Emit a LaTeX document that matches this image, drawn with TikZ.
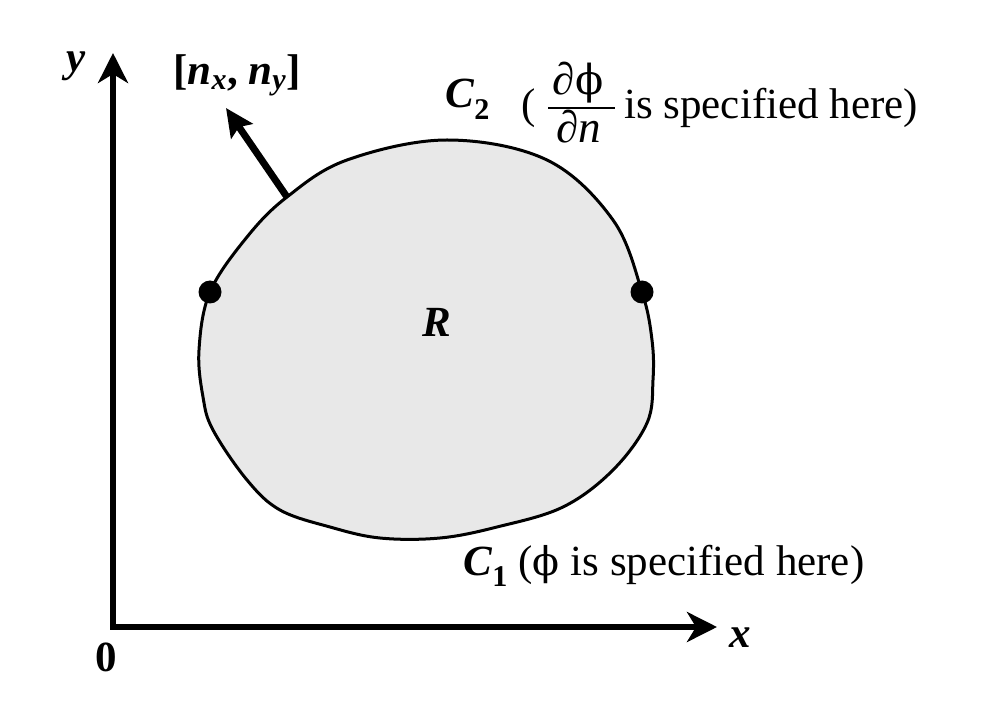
\documentclass[tikz,border=0pt]{standalone}
\usepackage{fontspec}
\setmainfont{Liberation Serif}
\newfontfamily\phifont{DejaVu Serif}[Scale=0.92]
\newcommand{\vphi}{{\phifont ϕ}}
\usetikzlibrary{arrows.meta}
\begin{document}
\begin{tikzpicture}[x=1pt,y=-1pt,
  lbl/.style={inner sep=0pt, font=\fontsize{43}{50}\selectfont},
  fracpart/.style={inner sep=0pt, anchor=base, font=\fontsize{45}{52}\selectfont},
  axisline/.style={line width=6pt, {Stealth[length=30pt,width=30pt,inset=9pt]}-{Stealth[length=30pt,width=30pt,inset=9pt]}},
  normalarrow/.style={line width=7pt, -{Stealth[length=28pt,width=26pt,inset=5pt]}},
  regionfill/.style={fill=black!9, draw=black, line width=3pt},
  fracbar/.style={line width=2.5pt},
  dotmark/.style={circle, fill=black, inner sep=0pt, minimum size=23pt}]
\useasboundingbox (0,0) rectangle (982,708);
% region
\draw[regionfill] plot[smooth cycle, tension=0.6] coordinates {
 (210,292) (247,237) (287,197) (347,160) (447,140) (547,160) (613,220)
 (642,292) (652,340) (653,380) (647,423) (613,470) (563,507) (497,527)
 (440,538) (380,538) (330,527) (280,510) (247,480) (213,430) (203,397) (199,350)};
\node[dotmark] (d1) at (210,292) {};
\node[dotmark] (d2) at (642,292) {};
% axes
\coordinate (O) at (113,627);
\coordinate (ytip) at (113,53);
\coordinate (xtip) at (717,627);
\draw[axisline] (ytip) -- (O) -- (xtip);
% normal
\coordinate (nb) at (287,197);
\coordinate (nt) at (226,108);
\draw[normalarrow] (nb) -- (nt);
% labels
\node[lbl] (ylab) at (76,66) {\textbf{\textit{y}}};
\node[lbl] (xlab) at (740,638) {\textbf{\textit{x}}};
\node[lbl] (olab) at (106,657) {\textbf{0}};
\node[lbl] (rlab) at (437,322) {\textbf{\textit{R}}};
\node[lbl] (nlab) at (237,75) {\textbf{[\textit{n}\textsubscript{\textit{x}}, \textit{n}\textsubscript{\textit{y}}]}};
\node[lbl, anchor=base west] (c2lab) at (445,108) {\textbf{\textit{C}\textsubscript{2}}};
\node[lbl, anchor=base west] (lpar) at (521,119) {(};
\node[fracpart] (num) at (578,95) {\textit{∂}\vphi};
\node[fracpart] (den) at (579,143) {\textit{∂n}};
\coordinate (barl) at (548,108);
\coordinate (barr) at (615,108);
\draw[fracbar] (barl) -- (barr);
\node[lbl, anchor=base west] (c2txt) at (624,119) {is specified here)};
\node[lbl, anchor=base west] (c1lab) at (463,575) {\textbf{\textit{C}\textsubscript{1}} (\vphi\ is specified here)};
\end{tikzpicture}
\end{document}
